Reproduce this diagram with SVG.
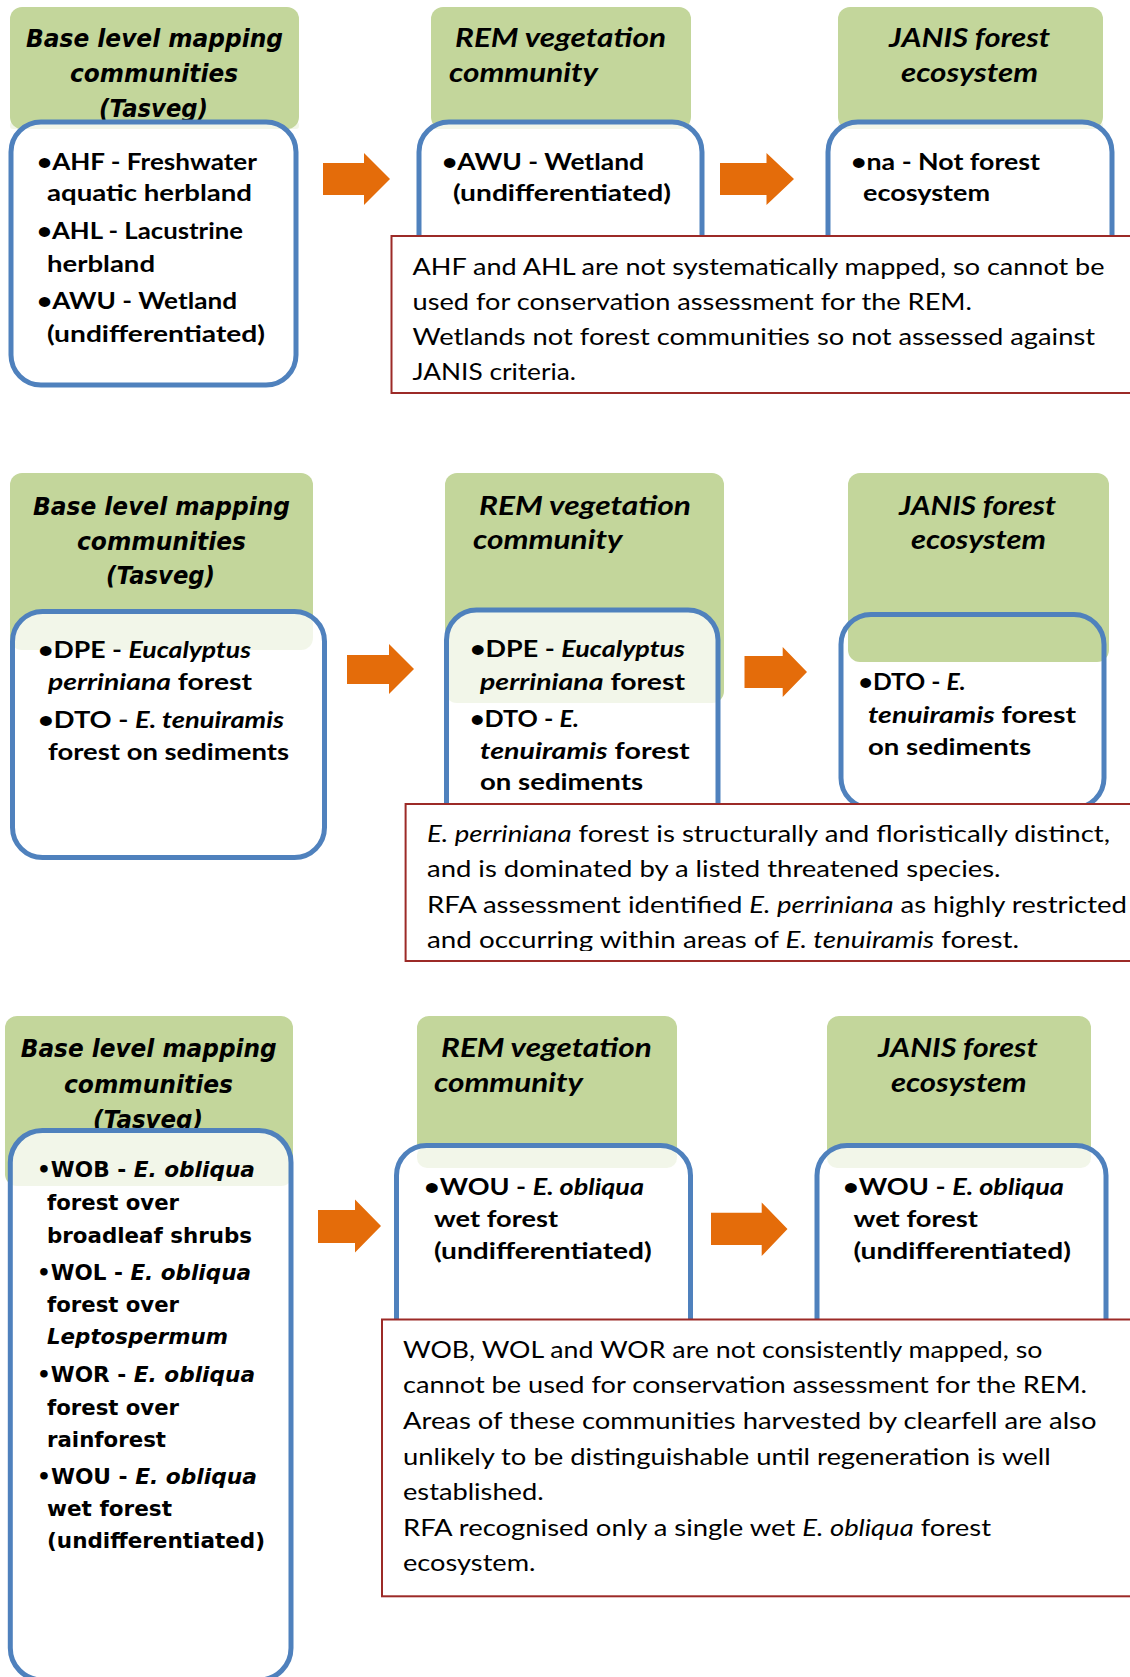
<svg xmlns="http://www.w3.org/2000/svg" width="1130" height="1677" viewBox="0 0 1130 1677">
  <style>
    .g { fill: #c3d69b; }
    .w { fill: #ffffff; }
    .t { fill: #c3d69b; fill-opacity: 0.22; }
    .b { fill: none; stroke: #4f81bd; stroke-width: 5; }
    .note { fill: #ffffff; stroke: #9c2a27; stroke-width: 2; }
    .arrow { fill: #e46c0a; }
    text { fill: #000000; }
    .hd { font-family: "DejaVu Sans", Verdana, sans-serif; font-weight: bold; font-style: italic; font-size: 24px; }
    .h { font-family: Lato, "Liberation Sans", sans-serif; font-weight: bold; font-style: italic; font-size: 26px; }
    .bd { font-family: Lato, "Liberation Sans", sans-serif; font-weight: bold; font-size: 23.5px; }
    .bv { font-family: "DejaVu Sans", Verdana, sans-serif; font-weight: bold; font-size: 21.5px; }
    .n { font-family: Lato, "Liberation Sans", sans-serif; font-size: 23px; }
    .i { font-style: italic; }
  </style>
  <defs>
    <clipPath id="clipNote2">
      <rect x="405" y="804" width="730" height="147"/>
    </clipPath>
  </defs>
  <rect width="1130" height="1677" fill="#ffffff"/>

  <!-- Row 1: wetlands -->
  <g id="r1-base">
    <rect class="g" x="10" y="7" width="289" height="122" rx="12"/>
    <text class="hd" x="26" y="47" textLength="257" lengthAdjust="spacingAndGlyphs">Base level mapping</text>
    <text class="hd" x="70" y="82" textLength="168" lengthAdjust="spacingAndGlyphs">communities</text>
    <text class="hd" x="99" y="117" textLength="109" lengthAdjust="spacingAndGlyphs">(Tasveg)</text>
    <rect class="w" x="11" y="122" width="285" height="263" rx="30"/>
    <rect class="t" x="10" y="122" width="289" height="7" rx="3"/>
    <rect class="b" x="11" y="122" width="285" height="263" rx="30"/>
    <text class="bd" x="37" y="170" textLength="220" lengthAdjust="spacingAndGlyphs">•AHF - Freshwater</text>
    <text class="bd" x="47" y="201" textLength="205" lengthAdjust="spacingAndGlyphs">aquatic herbland</text>
    <text class="bd" x="37" y="239" textLength="206" lengthAdjust="spacingAndGlyphs">•AHL - Lacustrine</text>
    <text class="bd" x="47" y="272" textLength="108" lengthAdjust="spacingAndGlyphs">herbland</text>
    <text class="bd" x="37" y="309" textLength="200" lengthAdjust="spacingAndGlyphs">•AWU - Wetland</text>
    <text class="bd" x="47" y="342" textLength="218" lengthAdjust="spacingAndGlyphs">(undifferentiated)</text>
  </g>

  <g id="r1-rem">
    <rect class="g" x="431" y="7" width="260" height="122" rx="12"/>
    <text class="h" x="455" y="47" textLength="211" lengthAdjust="spacingAndGlyphs">REM vegetation</text>
    <text class="h" x="449" y="82" textLength="149" lengthAdjust="spacingAndGlyphs">community</text>
    <rect class="w" x="419" y="122" width="283" height="190" rx="30"/>
    <rect class="t" x="431" y="122" width="260" height="7" rx="3"/>
    <rect class="b" x="419" y="122" width="283" height="190" rx="30"/>
    <text class="bd" x="442" y="170" textLength="202" lengthAdjust="spacingAndGlyphs">•AWU - Wetland</text>
    <text class="bd" x="453" y="201" textLength="218" lengthAdjust="spacingAndGlyphs">(undifferentiated)</text>
  </g>

  <g id="r1-janis">
    <rect class="g" x="838" y="7" width="265" height="122" rx="12"/>
    <text class="h" x="889" y="47" textLength="161" lengthAdjust="spacingAndGlyphs">JANIS forest</text>
    <text class="h" x="901" y="82" textLength="137" lengthAdjust="spacingAndGlyphs">ecosystem</text>
    <rect class="w" x="828" y="122" width="284" height="190" rx="30"/>
    <rect class="t" x="838" y="122" width="265" height="7" rx="3"/>
    <rect class="b" x="828" y="122" width="284" height="190" rx="30"/>
    <text class="bd" x="851" y="170" textLength="189" lengthAdjust="spacingAndGlyphs">•na - Not forest</text>
    <text class="bd" x="863" y="201" textLength="127" lengthAdjust="spacingAndGlyphs">ecosystem</text>
  </g>

  <g id="r1-note">
    <rect class="note" x="391.5" y="236" width="760" height="157"/>
    <text class="n" x="412.5" y="275" textLength="692" lengthAdjust="spacingAndGlyphs">AHF and AHL are not systematically mapped, so cannot be</text>
    <text class="n" x="412.5" y="310" textLength="559.5" lengthAdjust="spacingAndGlyphs">used for conservation assessment for the REM.</text>
    <text class="n" x="412.5" y="345" textLength="682.5" lengthAdjust="spacingAndGlyphs">Wetlands not forest communities so not assessed against</text>
    <text class="n" x="412.5" y="380" textLength="163.5" lengthAdjust="spacingAndGlyphs">JANIS criteria.</text>
  </g>

  <!-- Row 2: dry forests -->
  <g id="r2-base">
    <rect class="g" x="10" y="473" width="303" height="177" rx="12"/>
    <text class="hd" x="33" y="515" textLength="257" lengthAdjust="spacingAndGlyphs">Base level mapping</text>
    <text class="hd" x="77" y="550" textLength="169" lengthAdjust="spacingAndGlyphs">communities</text>
    <text class="hd" x="106" y="584" textLength="109" lengthAdjust="spacingAndGlyphs">(Tasveg)</text>
    <rect class="w" x="12.5" y="611.5" width="312" height="246" rx="30"/>
    <rect class="t" x="10" y="611.5" width="303" height="38.5" rx="12"/>
    <rect class="b" x="12.5" y="611.5" width="312" height="246" rx="30"/>
    <text class="bd" x="38" y="658" textLength="213" lengthAdjust="spacingAndGlyphs">•DPE - <tspan class="i">Eucalyptus</tspan></text>
    <text class="bd" x="48" y="690" textLength="204" lengthAdjust="spacingAndGlyphs"><tspan class="i">perriniana</tspan> forest</text>
    <text class="bd" x="38" y="728" textLength="246" lengthAdjust="spacingAndGlyphs">•DTO - <tspan class="i">E. tenuiramis</tspan></text>
    <text class="bd" x="48" y="760" textLength="241" lengthAdjust="spacingAndGlyphs">forest on sediments</text>
  </g>

  <g id="r2-rem">
    <rect class="g" x="445" y="473" width="279" height="230" rx="12"/>
    <text class="h" x="479" y="515" textLength="212" lengthAdjust="spacingAndGlyphs">REM vegetation</text>
    <text class="h" x="473" y="549" textLength="149.5" lengthAdjust="spacingAndGlyphs">community</text>
    <rect class="w" x="446.5" y="610" width="271.5" height="240" rx="30"/>
    <rect class="t" x="445" y="610" width="279" height="93" rx="12"/>
    <rect class="b" x="446.5" y="610" width="271.5" height="240" rx="30"/>
    <text class="bd" x="470" y="657" textLength="215" lengthAdjust="spacingAndGlyphs">•DPE - <tspan class="i">Eucalyptus</tspan></text>
    <text class="bd" x="480" y="690" textLength="205" lengthAdjust="spacingAndGlyphs"><tspan class="i">perriniana</tspan> forest</text>
    <text class="bd" x="470" y="727" textLength="109" lengthAdjust="spacingAndGlyphs">•DTO - <tspan class="i">E.</tspan></text>
    <text class="bd" x="480" y="759" textLength="209.6" lengthAdjust="spacingAndGlyphs"><tspan class="i">tenuiramis</tspan> forest</text>
    <text class="bd" x="480" y="790" textLength="163" lengthAdjust="spacingAndGlyphs">on sediments</text>
  </g>

  <g id="r2-janis">
    <rect class="w" x="841" y="614.5" width="263" height="193.5" rx="30"/>
    <rect class="g" x="848" y="473" width="261" height="189" rx="12"/>
    <text class="h" x="899" y="515" textLength="157" lengthAdjust="spacingAndGlyphs">JANIS forest</text>
    <text class="h" x="911" y="549" textLength="135" lengthAdjust="spacingAndGlyphs">ecosystem</text>
    <rect class="b" x="841" y="614.5" width="263" height="193.5" rx="30"/>
    <text class="bd" x="858.6" y="690" textLength="107" lengthAdjust="spacingAndGlyphs">•DTO - <tspan class="i">E.</tspan></text>
    <text class="bd" x="868" y="723" textLength="208" lengthAdjust="spacingAndGlyphs"><tspan class="i">tenuiramis</tspan> forest</text>
    <text class="bd" x="868" y="755" textLength="163" lengthAdjust="spacingAndGlyphs">on sediments</text>
  </g>

  <g id="r2-note">
    <rect class="note" x="405.6" y="804" width="760" height="157"/>
    <g clip-path="url(#clipNote2)">
      <text class="n" x="427" y="842" textLength="683" lengthAdjust="spacingAndGlyphs"><tspan class="i">E. perriniana</tspan> forest is structurally and floristically distinct,</text>
      <text class="n" x="427" y="877" textLength="573.6" lengthAdjust="spacingAndGlyphs">and is dominated by a listed threatened species.</text>
      <text class="n" x="427" y="913" textLength="700" lengthAdjust="spacingAndGlyphs">RFA assessment identified <tspan class="i">E. perriniana</tspan> as highly restricted</text>
      <text class="n" x="427" y="948" textLength="592" lengthAdjust="spacingAndGlyphs">and occurring within areas of <tspan class="i">E. tenuiramis</tspan> forest.</text>
    </g>
  </g>

  <!-- Row 3: wet E. obliqua forests -->
  <g id="r3-base">
    <rect class="g" x="5" y="1016" width="288" height="170" rx="12"/>
    <text class="hd" x="20.7" y="1057" textLength="256" lengthAdjust="spacingAndGlyphs">Base level mapping</text>
    <text class="hd" x="64" y="1093" textLength="169" lengthAdjust="spacingAndGlyphs">communities</text>
    <text class="hd" x="93" y="1128" textLength="110" lengthAdjust="spacingAndGlyphs">(Tasveg)</text>
    <rect class="w" x="10.3" y="1130.5" width="280.7" height="549.5" rx="32"/>
    <rect class="t" x="5" y="1130.5" width="288" height="55.5" rx="12"/>
    <rect class="b" x="10.3" y="1130.5" width="280.7" height="549.5" rx="32"/>
    <text class="bv" x="37" y="1177" textLength="218" lengthAdjust="spacingAndGlyphs">•WOB - <tspan class="i">E. obliqua</tspan></text>
    <text class="bv" x="47" y="1210" textLength="132" lengthAdjust="spacingAndGlyphs">forest over</text>
    <text class="bv" x="47" y="1243" textLength="205" lengthAdjust="spacingAndGlyphs">broadleaf shrubs</text>
    <text class="bv" x="37" y="1280" textLength="214" lengthAdjust="spacingAndGlyphs">•WOL - <tspan class="i">E. obliqua</tspan></text>
    <text class="bv" x="47" y="1312" textLength="132" lengthAdjust="spacingAndGlyphs">forest over</text>
    <text class="bv i" x="47" y="1344" textLength="181" lengthAdjust="spacingAndGlyphs">Leptospermum</text>
    <text class="bv" x="37" y="1382" textLength="218" lengthAdjust="spacingAndGlyphs">•WOR - <tspan class="i">E. obliqua</tspan></text>
    <text class="bv" x="47" y="1414.5" textLength="132" lengthAdjust="spacingAndGlyphs">forest over</text>
    <text class="bv" x="47" y="1447" textLength="119" lengthAdjust="spacingAndGlyphs">rainforest</text>
    <text class="bv" x="37" y="1483.6" textLength="220" lengthAdjust="spacingAndGlyphs">•WOU - <tspan class="i">E. obliqua</tspan></text>
    <text class="bv" x="47" y="1516" textLength="125" lengthAdjust="spacingAndGlyphs">wet forest</text>
    <text class="bv" x="47" y="1548" textLength="218" lengthAdjust="spacingAndGlyphs">(undifferentiated)</text>
  </g>

  <g id="r3-rem">
    <rect class="g" x="417" y="1016" width="260" height="152" rx="12"/>
    <text class="h" x="441" y="1057" textLength="210.7" lengthAdjust="spacingAndGlyphs">REM vegetation</text>
    <text class="h" x="434" y="1092" textLength="149" lengthAdjust="spacingAndGlyphs">community</text>
    <rect class="w" x="396.5" y="1145.5" width="294" height="240" rx="30"/>
    <rect class="t" x="417" y="1145.5" width="260" height="22.5" rx="10"/>
    <rect class="b" x="396.5" y="1145.5" width="294" height="240" rx="30"/>
    <text class="bd" x="424" y="1194.5" textLength="220" lengthAdjust="spacingAndGlyphs">•WOU - <tspan class="i">E. obliqua</tspan></text>
    <text class="bd" x="434" y="1226.6" textLength="124" lengthAdjust="spacingAndGlyphs">wet forest</text>
    <text class="bd" x="434" y="1259" textLength="217.7" lengthAdjust="spacingAndGlyphs">(undifferentiated)</text>
  </g>

  <g id="r3-janis">
    <rect class="g" x="827" y="1016" width="264" height="152" rx="12"/>
    <text class="h" x="878" y="1057" textLength="159.7" lengthAdjust="spacingAndGlyphs">JANIS forest</text>
    <text class="h" x="891" y="1092" textLength="135.7" lengthAdjust="spacingAndGlyphs">ecosystem</text>
    <rect class="w" x="817" y="1145.5" width="289" height="240" rx="30"/>
    <rect class="t" x="827" y="1145.5" width="264" height="22.5" rx="10"/>
    <rect class="b" x="817" y="1145.5" width="289" height="240" rx="30"/>
    <text class="bd" x="843" y="1194.5" textLength="221" lengthAdjust="spacingAndGlyphs">•WOU - <tspan class="i">E. obliqua</tspan></text>
    <text class="bd" x="853.5" y="1226.6" textLength="124.5" lengthAdjust="spacingAndGlyphs">wet forest</text>
    <text class="bd" x="853.5" y="1259" textLength="217.5" lengthAdjust="spacingAndGlyphs">(undifferentiated)</text>
  </g>

  <g id="r3-note">
    <rect class="note" x="382" y="1319.5" width="760" height="276.8"/>
    <text class="n" x="403" y="1357.8" textLength="639.5" lengthAdjust="spacingAndGlyphs">WOB, WOL and WOR are not consistently mapped, so</text>
    <text class="n" x="403" y="1393.4" textLength="684" lengthAdjust="spacingAndGlyphs">cannot be used for conservation assessment for the REM.</text>
    <text class="n" x="403" y="1429" textLength="693.5" lengthAdjust="spacingAndGlyphs">Areas of these communities harvested by clearfell are also</text>
    <text class="n" x="403" y="1464.6" textLength="647.6" lengthAdjust="spacingAndGlyphs">unlikely to be distinguishable until regeneration is well</text>
    <text class="n" x="403" y="1500" textLength="140.6" lengthAdjust="spacingAndGlyphs">established.</text>
    <text class="n" x="403" y="1535.8" textLength="588" lengthAdjust="spacingAndGlyphs">RFA recognised only a single wet <tspan class="i">E. obliqua</tspan> forest</text>
    <text class="n" x="403" y="1571" textLength="132.5" lengthAdjust="spacingAndGlyphs">ecosystem.</text>
  </g>

  <!-- Block arrows linking the columns -->
  <g id="connectors">
    <polygon class="arrow" points="323,163 364,163 364,153 390,179 364,205 364,195 323,195"/>
    <polygon class="arrow" points="720,163 766.5,163 766.5,153 794,179 766.5,205 766.5,195 720,195"/>
    <polygon class="arrow" points="347,655 389,655 389,644 414,669 389,694 389,684 347,684"/>
    <polygon class="arrow" points="744.5,656 782.7,656 782.7,647 807,672 782.7,697 782.7,688 744.5,688"/>
    <polygon class="arrow" points="318,1210 355,1210 355,1199.5 381,1226 355,1252.6 355,1243 318,1243"/>
    <polygon class="arrow" points="711,1212.7 761.7,1212.7 761.7,1202.5 787.5,1229 761.7,1256 761.7,1245 711,1245"/>
  </g>
</svg>
